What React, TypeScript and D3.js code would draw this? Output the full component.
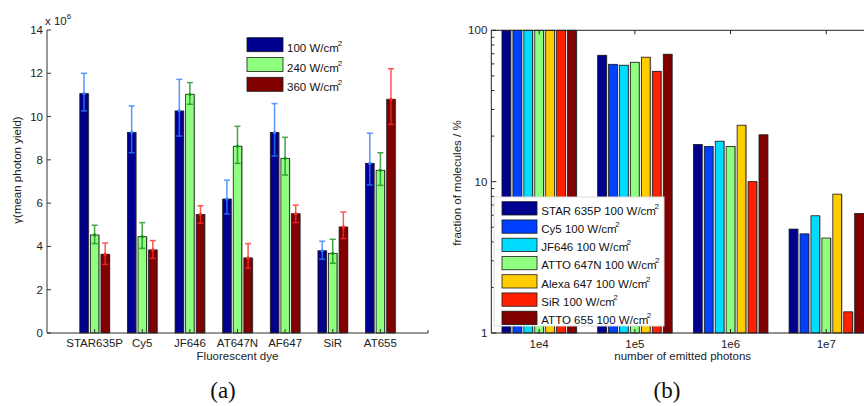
import { useRef, useEffect } from "react";
import * as d3 from "d3";

// panel (a): mean photon yield per dye, three intensities
const dyes = ["STAR635P", "Cy5", "JF646", "AT647N", "AF647", "SiR", "AT655"];
const powerLabels = ["100 W/cm", "240 W/cm", "360 W/cm"];
const yield100 = [11.06, 9.27, 10.26, 6.19, 9.26, 3.8, 7.84];
const yield240 = [4.53, 4.45, 11.03, 8.63, 8.07, 3.68, 7.52];
const yield360 = [3.64, 3.84, 5.48, 3.47, 5.51, 4.9, 10.8];
const hi100 = [12.0, 10.49, 11.72, 7.06, 10.6, 4.24, 9.23];
const lo100 = [10.26, 8.33, 9.1, 5.5, 8.18, 3.41, 6.84];
const hi240 = [4.98, 5.1, 11.57, 9.55, 9.04, 4.33, 8.33];
const lo240 = [4.13, 3.91, 10.57, 7.84, 7.3, 3.22, 6.82];
const hi360 = [4.16, 4.27, 5.88, 4.13, 5.91, 5.59, 12.21];
const lo360 = [3.17, 3.45, 5.07, 2.99, 5.1, 4.36, 9.64];
const yTicksA = [0, 2, 4, 6, 8, 10, 12, 14];

// panel (b): fraction of molecules emitting at least N photons
const photonBins = ["1e4", "1e5", "1e6", "1e7"];
const dyeNamesB = ["STAR 635P", "Cy5", "JF646", "ATTO 647N", "Alexa 647", "SiR", "ATTO 655"];
const fracStar = [100, 68.4, 17.6, 4.86];
const fracCy5 = [100, 59.6, 17.1, 4.52];
const fracJF646 = [100, 58.8, 18.5, 5.95];
const fracAtto647N = [100, 61.5, 17.1, 4.24];
const fracAlexa = [100, 66.4, 23.6, 8.27];
const fracSiR = [100, 53.6, 10.0, 1.38];
const fracAtto655 = [100, 69.5, 20.4, 6.16];

const FONT = "'Liberation Sans', Arial, sans-serif";

export default function App() {
  const svgRef = useRef<SVGSVGElement>(null);

  useEffect(() => {
    const svg = d3.select(svgRef.current);
    svg.selectAll("*").remove();

    // ---------- panel (a) ----------
    const aL = 47, aR = 428, aT = 30, aB = 333;
    const seriesA = [
      { label: powerLabels[0], vals: yield100, hi: hi100, lo: lo100, fill: "#00008f", err: "#2f7fff" },
      { label: powerLabels[1], vals: yield240, hi: hi240, lo: lo240, fill: "#8fff7f", err: "#15901a" },
      { label: powerLabels[2], vals: yield360, hi: hi360, lo: lo360, fill: "#800000", err: "#ff2a2a" },
    ];
    const step = (aR - aL) / (dyes.length + 1);
    const xA = d3.scalePoint<string>().domain(dyes).range([aL + step, aR - step]);
    const inA = d3
      .scaleBand<number>()
      .domain(d3.range(seriesA.length))
      .range([-step / 3, step / 3])
      .paddingInner(0.2)
      .paddingOuter(0.1);
    const yA = d3.scaleLinear().domain([0, 14]).range([aB, aT]);

    const ga = svg.append("g");
    seriesA.forEach((s, si) => {
      ga.selectAll(null)
        .data(s.vals)
        .enter()
        .append("rect")
        .attr("x", (_, i) => xA(dyes[i])! + inA(si)! + 1)
        .attr("y", (d) => yA(d))
        .attr("width", inA.bandwidth())
        .attr("height", (d) => aB - yA(d))
        .attr("fill", "#a8a8a8");
      ga.selectAll(null)
        .data(s.vals)
        .enter()
        .append("rect")
        .attr("x", (_, i) => xA(dyes[i])! + inA(si)!)
        .attr("y", (d) => yA(d))
        .attr("width", inA.bandwidth())
        .attr("height", (d) => aB - yA(d))
        .attr("fill", s.fill)
        .attr("stroke", "#1a1a1a")
        .attr("stroke-width", 0.8);
    });
    // error bars
    seriesA.forEach((s, si) => {
      s.vals.forEach((v, i) => {
        const cx = xA(dyes[i])! + inA(si)! + inA.bandwidth() / 2;
        const eg = ga.append("g").attr("stroke", s.err).attr("stroke-width", 1.5).attr("opacity", 0.8);
        eg.append("line").attr("x1", cx).attr("x2", cx).attr("y1", yA(s.hi[i])).attr("y2", yA(s.lo[i]));
        [s.hi[i], s.lo[i]].forEach((e) =>
          eg.append("line").attr("x1", cx - 3).attr("x2", cx + 3).attr("y1", yA(e)).attr("y2", yA(e))
        );
        ga.append("circle").attr("cx", cx).attr("cy", yA(v)).attr("r", 1.6).attr("fill", s.err);
      });
    });

    // axes (a)
    const axA = svg.append("g").attr("stroke", "#333").attr("stroke-width", 1);
    axA.append("line").attr("x1", aL).attr("x2", aL).attr("y1", aT).attr("y2", aB);
    axA.append("line").attr("x1", aL).attr("x2", aR).attr("y1", aB).attr("y2", aB);
    axA.append("line").attr("x1", aR).attr("x2", aR).attr("y1", aB).attr("y2", aB - 3);
    yTicksA.forEach((t) => {
      axA.append("line").attr("x1", aL).attr("x2", aL + 4).attr("y1", yA(t)).attr("y2", yA(t));
      svg.append("text")
        .attr("x", aL - 4).attr("y", yA(t) + 4)
        .attr("text-anchor", "end").attr("font-size", 11.5).attr("font-family", FONT).attr("fill", "#222")
        .text(t);
    });
    dyes.forEach((d) => {
      axA.append("line").attr("x1", xA(d)!).attr("x2", xA(d)!).attr("y1", aB).attr("y2", aB - 4);
      svg.append("text")
        .attr("x", xA(d)!).attr("y", 347)
        .attr("text-anchor", "middle").attr("font-size", 11.5).attr("font-family", FONT).attr("fill", "#222")
        .text(d);
    });
    const expo = svg.append("text").attr("x", 45).attr("y", 25).attr("font-size", 11.5)
      .attr("font-family", FONT).attr("fill", "#222");
    expo.append("tspan").text("x 10");
    expo.append("tspan").attr("dy", -6).attr("font-size", 8).text("6");

    svg.append("text")
      .attr("x", (aL + aR) / 2).attr("y", 360)
      .attr("text-anchor", "middle").attr("font-size", 11.5).attr("font-family", FONT).attr("fill", "#222")
      .text("Fluorescent dye");
    svg.append("text")
      .attr("transform", "rotate(-90)")
      .attr("x", -170).attr("y", 21)
      .attr("text-anchor", "middle").attr("font-size", 11.5).attr("font-family", FONT).attr("fill", "#222")
      .text("\u03B3(mean photon yield)");

    // legend (a)
    seriesA.forEach((s, si) => {
      const ly = 37.7 + si * 19.8;
      svg.append("rect").attr("x", 247).attr("y", ly).attr("width", 36).attr("height", 14)
        .attr("fill", s.fill).attr("stroke", "#1a1a1a").attr("stroke-width", 0.8);
      const t = svg.append("text").attr("x", 287).attr("y", ly + 14).attr("font-size", 11.5)
        .attr("font-family", FONT).attr("fill", "#111");
      t.append("tspan").text(s.label);
      t.append("tspan").attr("dx", -1).attr("dy", -6).attr("font-size", 8).text("2");
    });

    svg.append("text")
      .attr("x", 223).attr("y", 398)
      .attr("text-anchor", "middle").attr("font-size", 23).attr("font-family", "'Liberation Serif', serif")
      .attr("fill", "#111").text("(a)");

    // ---------- panel (b) ----------
    const bL = 491.3, bT = 30.3, bB = 333;
    const stepB = 95.7;
    const bR = bL + stepB * photonBins.length;
    const seriesB = [
      { name: dyeNamesB[0], vals: fracStar, fill: "#00008f" },
      { name: dyeNamesB[1], vals: fracCy5, fill: "#0040ff" },
      { name: dyeNamesB[2], vals: fracJF646, fill: "#00dcff" },
      { name: dyeNamesB[3], vals: fracAtto647N, fill: "#8fff7f" },
      { name: dyeNamesB[4], vals: fracAlexa, fill: "#ffcc00" },
      { name: dyeNamesB[5], vals: fracSiR, fill: "#ff2000" },
      { name: dyeNamesB[6], vals: fracAtto655, fill: "#800000" },
    ];
    const xB = d3.scalePoint<string>().domain(photonBins).range([bL + stepB / 2, bR - stepB / 2]);
    const inB = d3
      .scaleBand<number>()
      .domain(d3.range(seriesB.length))
      .range([-0.4 * stepB, 0.4 * stepB])
      .paddingInner(0.2)
      .paddingOuter(0.1);
    const yB = d3.scaleLog().domain([1, 100]).range([bB, bT]);

    const gb = svg.append("g");
    seriesB.forEach((s, si) => {
      gb.selectAll(null)
        .data(s.vals)
        .enter()
        .append("rect")
        .attr("x", (_, i) => xB(photonBins[i])! + inB(si)! + 1)
        .attr("y", (d) => yB(d))
        .attr("width", inB.bandwidth())
        .attr("height", (d) => bB - yB(d))
        .attr("fill", "#a8a8a8");
      gb.selectAll(null)
        .data(s.vals)
        .enter()
        .append("rect")
        .attr("x", (_, i) => xB(photonBins[i])! + inB(si)!)
        .attr("y", (d) => yB(d))
        .attr("width", inB.bandwidth())
        .attr("height", (d) => bB - yB(d))
        .attr("fill", s.fill)
        .attr("stroke", "#1a1a1a")
        .attr("stroke-width", 0.8);
    });

    // axes (b)
    const axB = svg.append("g").attr("stroke", "#222").attr("stroke-width", 1);
    axB.append("line").attr("x1", bL).attr("x2", bL).attr("y1", bT).attr("y2", bB);
    axB.append("line").attr("x1", bL).attr("x2", bR).attr("y1", bT).attr("y2", bT);
    axB.append("line").attr("x1", bL).attr("x2", bR).attr("y1", bB).attr("y2", bB);
    photonBins.forEach((p) => {
      axB.append("line").attr("x1", xB(p)!).attr("x2", xB(p)!).attr("y1", bT).attr("y2", bT + 4);
      axB.append("line").attr("x1", xB(p)!).attr("x2", xB(p)!).attr("y1", bB).attr("y2", bB - 4);
      svg.append("text")
        .attr("x", xB(p)!).attr("y", 347.5)
        .attr("text-anchor", "middle").attr("font-size", 11.5).attr("font-family", FONT).attr("fill", "#222")
        .text(p);
    });
    yB.ticks().forEach((t) => {
      const major = Math.abs(Math.log10(t) - Math.round(Math.log10(t))) < 1e-9;
      axB.append("line").attr("x1", bL).attr("x2", bL + (major ? 5 : 3)).attr("y1", yB(t)).attr("y2", yB(t));
      if (major) {
        svg.append("text")
          .attr("x", bL - 4).attr("y", yB(t) + 4)
          .attr("text-anchor", "end").attr("font-size", 11.5).attr("font-family", FONT).attr("fill", "#222")
          .text(t);
      }
    });
    svg.append("text")
      .attr("x", (bL + bR) / 2).attr("y", 360)
      .attr("text-anchor", "middle").attr("font-size", 11.5).attr("font-family", FONT).attr("fill", "#222")
      .text("number of emitted photons");
    svg.append("text")
      .attr("transform", "rotate(-90)")
      .attr("x", -183).attr("y", 460.5)
      .attr("text-anchor", "middle").attr("font-size", 11.5).attr("font-family", FONT).attr("fill", "#222")
      .text("fraction of molecules / %");

    // legend (b)
    svg.append("rect").attr("x", 494).attr("y", 197).attr("width", 170).attr("height", 129)
      .attr("fill", "#fff").attr("stroke", "#dcdcdc").attr("stroke-width", 1);
    seriesB.forEach((s, si) => {
      const ly = 201.7 + si * 18.25;
      svg.append("rect").attr("x", 502).attr("y", ly).attr("width", 35).attr("height", 13.3)
        .attr("fill", s.fill).attr("stroke", "#1a1a1a").attr("stroke-width", 0.8);
      const t = svg.append("text").attr("x", 541.3).attr("y", ly + 13).attr("font-size", 11.5)
        .attr("font-family", FONT).attr("fill", "#111");
      t.append("tspan").text(`${s.name} 100 W/cm`);
      t.append("tspan").attr("dx", -1.5).attr("dy", -6).attr("font-size", 8).text("2");
    });

    svg.append("text")
      .attr("x", 667).attr("y", 398)
      .attr("text-anchor", "middle").attr("font-size", 23).attr("font-family", "'Liberation Serif', serif")
      .attr("fill", "#111").text("(b)");
  }, []);

  return (
    <svg
      ref={svgRef}
      width={864}
      height={406}
      style={{ position: "absolute", left: 0, top: 0, background: "#fff" }}
    />
  );
}
